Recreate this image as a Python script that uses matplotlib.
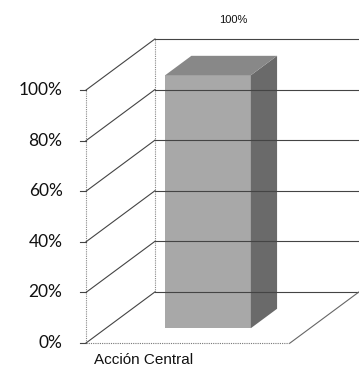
import matplotlib.pyplot as plt
from matplotlib.patches import Polygon

categories = ["Acción Central"]
values = [100]
tick_values = [0, 20, 40, 60, 80, 100]
tick_labels = ["0%", "20%", "40%", "60%", "80%", "100%"]
value_labels = ["100%"]

# pseudo-3D geometry in data units (x: category units, y: percent)
DX, DY = 0.338, 20.2          # full depth offset of the walls
BAR_FRONT, BAR_BACK = 0.29, 0.67
BAR_W = 0.42
FLOOR_END = 1.0

plt.rcParams["hatch.color"] = "#8e8e8e"
plt.rcParams["hatch.linewidth"] = 0.6

fig = plt.figure(figsize=(3.59, 3.71), dpi=100)
ax = fig.add_axes([0, 0, 1, 1])
ax.set_xlim(-0.4216, 1.338)
ax.set_ylim(-11.07, 135.6)
ax.axis("off")

wall = dict(color="#444444", lw=0.8)
# front vertical axis and back wall vertical
ax.plot([0, 0], [0, 100], color="#888888", lw=0.8, ls=(0, (1, 1)))
ax.plot([DX, DX], [DY, 100 + DY], color="#888888", lw=0.8, ls=(0, (1, 1)))
for v, lab in zip(tick_values, tick_labels):
    ax.plot([0, DX], [v, v + DY], **wall)
    ax.plot([DX, 1.338], [v + DY, v + DY], **wall)
    ax.plot([-0.03, 0], [v, v], **wall)
    ax.text(-0.115, v, lab, ha="right", va="center", fontsize=12.5,
            family=["Lato", "DejaVu Sans"], color="#111111")
# floor
ax.plot([0, FLOOR_END], [0, 0], color="#777777", lw=0.8, ls=(0, (1, 1)))
ax.plot([FLOOR_END, FLOOR_END + DX], [0, DY], color="#666666", lw=0.8)

for i, (cat, val, vlab) in enumerate(zip(categories, values, value_labels)):
    cx = i + 0.5
    x0 = cx - BAR_W / 2 + BAR_FRONT * DX
    x1 = cx + BAR_W / 2 + BAR_FRONT * DX
    y0 = BAR_FRONT * DY
    y1 = val + y0
    bx = (BAR_BACK - BAR_FRONT) * DX
    by = (BAR_BACK - BAR_FRONT) * DY
    ax.add_patch(Polygon([(x0, y0), (x1, y0), (x1, y1), (x0, y1)],
                         closed=True, fc="#a8a8a8", ec="none", hatch="....",
                         lw=0))
    ax.add_patch(Polygon([(x1, y0), (x1 + bx, y0 + by), (x1 + bx, y1 + by), (x1, y1)],
                         closed=True, fc="#6a6a6a", ec="none", hatch="....", lw=0))
    ax.add_patch(Polygon([(x0, y1), (x1, y1), (x1 + bx, y1 + by), (x0 + bx, y1 + by)],
                         closed=True, fc="#888888", ec="none", hatch="....", lw=0))
    ax.text(i + 0.72, 127.6, vlab, ha="center", va="center", fontsize=8,
            family=["Liberation Sans"], color="#111111")
    ax.text(i + 0.28, -6.9, cat, ha="center", va="center", fontsize=11,
            family=["Liberation Sans"], color="#111111")

fig.savefig("out.png", dpi=100)
